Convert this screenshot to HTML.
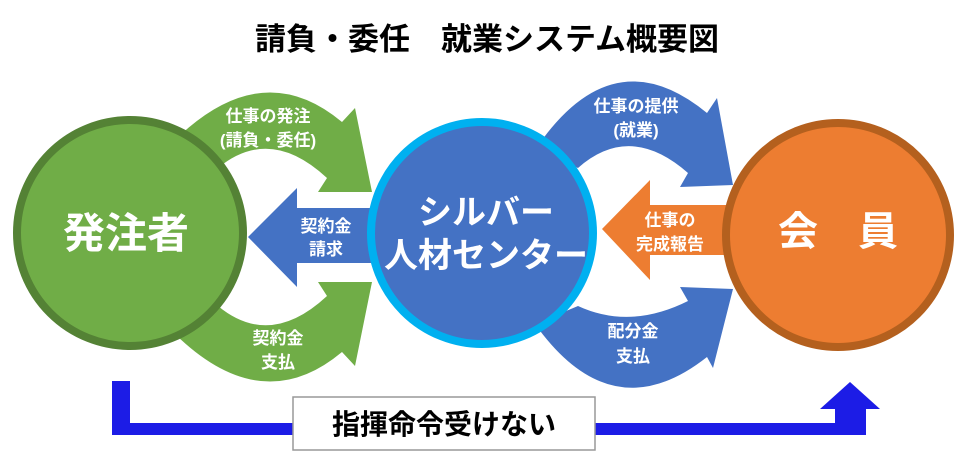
<!DOCTYPE html>
<html><head><meta charset="utf-8"><style>
html,body{margin:0;padding:0;background:#fff;}
svg{display:block;}
text{font-family:"Liberation Sans","Noto Sans CJK JP",sans-serif;font-weight:bold;}
</style></head><body>
<svg width="971" height="464" viewBox="0 0 971 464">
<text x="487" y="50" font-size="31" text-anchor="middle" fill="#000">請負・委任　就業システム概要図</text>

<!-- green curved arrows -->
<path d="M175,140 Q262,55 342,122 L355,108 L372,192 L318,192 L327,178 Q270,125 218,168 Z" fill="#70ad47"/>
<path d="M175,334 Q262,419 342,352 L355,366 L372,282 L318,282 L327,296 Q270,349 218,306 Z" fill="#70ad47"/>
<!-- blue curved arrows -->
<path d="M535,150 Q612,35 707,113 L717,98 L733,185 L680,187 L688,173 Q630,122 578,168 Z" fill="#4472c4"/>
<path d="M535,324 Q612,432 707,357 L713,368 L733,289 L680,287 L688,301 Q630,330 578,306 Z" fill="#4472c4"/>
<!-- straight arrows -->
<polygon points="248,237 297,188 297,208 380,208 380,263 297,263 297,287" fill="#4472c4"/>
<polygon points="602,229 650,180 650,205 740,205 740,255 650,255 650,280" fill="#ed7d31"/>

<!-- circles -->
<circle cx="130" cy="233" r="113" fill="#70ad47" stroke="#548235" stroke-width="8"/>
<circle cx="482" cy="233" r="111" fill="#4472c4" stroke="#00b0f0" stroke-width="8"/>
<circle cx="838" cy="235" r="112" fill="#ed7d31" stroke="#b4601e" stroke-width="8"/>

<text x="126" y="248" font-size="42" fill="#fff" text-anchor="middle">発注者</text>
<text x="486" y="224" font-size="34" fill="#fff" text-anchor="middle">シルバー</text>
<text x="486" y="267" font-size="34" fill="#fff" text-anchor="middle">人材センター</text>
<text x="838" y="245" font-size="40" fill="#fff" text-anchor="middle">会　員</text>

<g font-size="17" fill="#fff" text-anchor="middle">
<text x="268" y="122">仕事の発注</text>
<text x="268" y="146">(請負・委任)</text>
<text x="326" y="232">契約金</text>
<text x="326" y="255">請求</text>
<text x="278" y="344">契約金</text>
<text x="278" y="368">支払</text>
<text x="636" y="112">仕事の提供</text>
<text x="636" y="136">(就業)</text>
<text x="670" y="226">仕事の</text>
<text x="670" y="250">完成報告</text>
<text x="633" y="337">配分金</text>
<text x="633" y="362">支払</text>
</g>

<!-- bottom bracket -->
<rect x="112" y="381" width="18" height="54" fill="#1c1ce6"/>
<rect x="112" y="423" width="754" height="12" fill="#1c1ce6"/>
<rect x="835" y="408" width="31" height="27" fill="#1c1ce6"/>
<polygon points="820,409 850,382 880,409" fill="#1c1ce6"/>
<rect x="293" y="397" width="302" height="53" fill="#fff" stroke="#999" stroke-width="1.5"/>
<text x="444" y="434" font-size="28" fill="#000" text-anchor="middle">指揮命令受けない</text>
</svg>
</body></html>
